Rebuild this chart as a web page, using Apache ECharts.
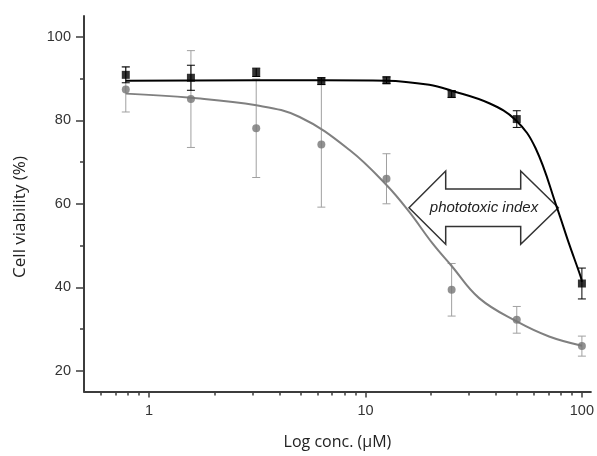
<!DOCTYPE html>
<html>
<head>
<meta charset="utf-8">
<script src="https://cdn.jsdelivr.net/npm/echarts@6/dist/echarts.min.js"></script>
<style>
html,body{margin:0;padding:0;background:#fff;}
#chart{width:597px;height:456px;}
</style>
</head>
<body>
<div id="chart"></div>
<script>
// ---- data ----
const conc = [0.78, 1.56, 3.125, 6.25, 12.5, 25, 50, 100];
const darkMean = [90.9, 90.2, 91.5, 89.4, 89.6, 86.3, 80.3, 40.9];
const darkErr  = [1.9, 3.0, 1.0, 0.8, 0.8, 0.8, 2.0, 3.7];
const lightMean = [87.4, 85.1, 78.1, 74.2, 66.0, 39.4, 32.2, 25.9];
const lightErr  = [5.4, 11.6, 11.8, 15.0, 6.0, 6.3, 3.2, 2.4];

// fitted curves, points
const darkFitX = [0.78, 6.25, 12.5, 19.7, 25, 37.3, 49.4, 61.1, 76.9, 87.1, 98.6, 100];
const darkFitY = [89.5, 89.6, 89.5, 88.5, 87.1, 84.1, 80.1, 73.3, 58.9, 50.5, 42.6, 41.3];
const lightFitX = [0.78, 1.56, 3.13, 4.96, 8.44, 12.5, 15.9, 20.4, 25, 33.5, 50, 70.5, 100];
const lightFitY = [86.4, 85.4, 83.6, 80.8, 72.9, 64.5, 58.1, 50.5, 45.1, 37.4, 31.8, 28.2, 26.0];

const xMajorTicks = [1, 10, 100];
const xMinorTicks = [0.6, 0.7, 0.8, 0.9, 2, 3, 4, 5, 6, 7, 8, 9, 20, 30, 40, 50, 60, 70, 80, 90];
const yMajorTicks = [20, 40, 60, 80, 100];
const yMinorTicks = [30, 50, 70, 90];

const xTitle = 'Log conc. (\u03bcM)';
const yTitle = 'Cell viability (%)';
const annotation = 'phototoxic index';

const chart = echarts.init(document.getElementById('chart'), null, {renderer: 'canvas'});

function errorBarSeries(mean, err, color, z) {
  return {
    type: 'custom',
    z: z,
    silent: true,
    encode: {x: 0, y: 1},
    data: conc.map((c, i) => [c, mean[i], err[i]]),
    renderItem: function (params, api) {
      const x = api.value(0), y = api.value(1), e = api.value(2);
      const top = api.coord([x, y + e]);
      const bot = api.coord([x, y - e]);
      const hw = 4;
      const st = {stroke: color, lineWidth: 1};
      return {
        type: 'group',
        children: [
          {type: 'line', shape: {x1: top[0], y1: top[1], x2: bot[0], y2: bot[1]}, style: st},
          {type: 'line', shape: {x1: top[0] - hw, y1: top[1], x2: top[0] + hw, y2: top[1]}, style: st},
          {type: 'line', shape: {x1: bot[0] - hw, y1: bot[1], x2: bot[0] + hw, y2: bot[1]}, style: st}
        ]
      };
    }
  };
}

const axisColor = '#3c3c3c';
const labelStyle = {color: '#333', fontSize: 14.5, fontFamily: 'Liberation Sans, Arial, sans-serif'};
const titleFont = 'Open Sans, sans-serif';

const option = {
  animation: false,
  backgroundColor: '#fff',
  grid: {left: 84, right: 5, top: 16, bottom: 64.4},
  xAxis: [
    {
      type: 'log', logBase: 10, min: 0.5, max: 110,
      name: xTitle, nameLocation: 'middle', nameGap: 43,
      nameTextStyle: {color: '#222', fontSize: 16, fontFamily: titleFont},
      axisLine: {show: true, lineStyle: {color: axisColor, width: 2}},
      axisTick: {show: true, inside: false, length: 6, customValues: xMajorTicks, lineStyle: {color: axisColor, width: 1.5}},
      axisLabel: {show: true, margin: 12, customValues: xMajorTicks, ...labelStyle},
      splitLine: {show: false},
      minorTick: {show: false}
    },
    {
      type: 'log', logBase: 10, min: 0.5, max: 110, position: 'bottom',
      axisLine: {show: false},
      axisTick: {show: true, inside: false, length: 4, customValues: xMinorTicks, lineStyle: {color: axisColor, width: 1.5}},
      axisLabel: {show: false},
      splitLine: {show: false}
    }
  ],
  yAxis: [
    {
      type: 'value', min: 15, max: 105,
      axisLine: {show: true, lineStyle: {color: axisColor, width: 2}},
      axisTick: {show: true, inside: false, length: 8, customValues: yMajorTicks, lineStyle: {color: axisColor, width: 1.5}},
      axisLabel: {show: true, margin: 13, customValues: yMajorTicks, ...labelStyle},
      splitLine: {show: false}
    },
    {
      type: 'value', min: 15, max: 105, position: 'left',
      axisLine: {show: false},
      axisTick: {show: true, inside: false, length: 4, customValues: yMinorTicks, lineStyle: {color: axisColor, width: 1.5}},
      axisLabel: {show: false},
      splitLine: {show: false}
    }
  ],
  graphic: [
    {
      type: 'text', x: 20, y: 217, rotation: Math.PI / 2,
      style: {text: yTitle, textAlign: 'center', textVerticalAlign: 'middle', fill: '#222', fontSize: 17, fontFamily: titleFont}
    },
    {
      type: 'polygon', z: 1,
      shape: {points: [[409, 207.7], [445.7, 171], [445.7, 189], [520.7, 189], [520.7, 171], [558.3, 207.7], [520.7, 244.3], [520.7, 226.4], [445.7, 226.4], [445.7, 244.3]]},
      style: {fill: '#fff', stroke: '#333', lineWidth: 1.5}
    },
    {
      type: 'text', z: 2, x: 484, y: 207.7,
      style: {text: annotation, textAlign: 'center', textVerticalAlign: 'middle', fill: '#222', fontSize: 15, fontStyle: 'italic', fontFamily: 'Liberation Sans, Arial, sans-serif'}
    }
  ],
  series: [
    errorBarSeries(lightMean, lightErr, '#a0a0a0', 3),
    {
      type: 'line', z: 4, smooth: 0.4, showSymbol: false, silent: true,
      data: lightFitX.map((x, i) => [x, lightFitY[i]]),
      lineStyle: {color: '#808080', width: 2}
    },
    {
      type: 'scatter', z: 5, symbol: 'circle', symbolSize: 8, silent: true,
      data: conc.map((x, i) => [x, lightMean[i]]),
      itemStyle: {color: '#767676'}
    },
    errorBarSeries(darkMean, darkErr, '#000', 6),
    {
      type: 'line', z: 7, smooth: 0.4, showSymbol: false, silent: true,
      data: darkFitX.map((x, i) => [x, darkFitY[i]]),
      lineStyle: {color: '#000', width: 2}
    },
    {
      type: 'scatter', z: 8, symbol: 'rect', symbolSize: 8, silent: true,
      data: conc.map((x, i) => [x, darkMean[i]]),
      itemStyle: {color: '#000'}
    }
  ]
};
chart.setOption(option);
</script>
</body>
</html>
